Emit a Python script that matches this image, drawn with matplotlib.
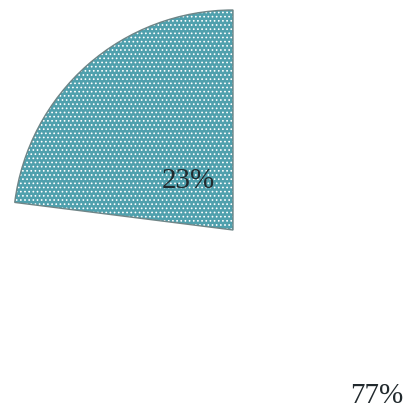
import numpy as np
import matplotlib
matplotlib.use("Agg")
import matplotlib.pyplot as plt

# Share of responses
labels = ["A", "B"]
values = [23, 77]
pct_labels = ["23%", "77%"]
label_dist = [0.31, 0.99]

plt.rcParams["font.family"] = ["Liberation Serif", "DejaVu Serif"]
plt.rcParams["hatch.linewidth"] = 0.7

fig = plt.figure(figsize=(4.13, 4.19), dpi=100)
fig.patch.set_facecolor("white")
W, H = 413, 419
cx, cy, R = 233, 230, 220
ax = fig.add_axes([(cx - R) / W, (H - cy - R) / H, 2 * R / W, 2 * R / H])

fills = ["#4fa0ad", "white"]
hatches = ["....", None]

wedges, _ = ax.pie(values, startangle=90, counterclock=True, radius=1,
                   colors=fills, wedgeprops=dict(linewidth=0, edgecolor="white"))
for w, h in zip(wedges, hatches):
    w.set_clip_on(False)
    if h:
        w.set_hatch(h)

# outline of the coloured slice only
outline, _ = ax.pie(values, startangle=90, counterclock=True, radius=1,
                    colors=["none", "none"],
                    wedgeprops=dict(linewidth=1.0))
outline[0].set_edgecolor("#6f8587")
outline[1].set_edgecolor("none")
for w in outline:
    w.set_clip_on(False)

ax.set_xlim(-1, 1)
ax.set_ylim(-1, 1)
ax.axis("off")

for w, txt, d in zip(wedges, pct_labels, label_dist):
    mid = np.deg2rad((w.theta1 + w.theta2) / 2)
    ax.text(d * np.cos(mid), d * np.sin(mid) - 0.01, txt, ha="center", va="center",
            fontsize=21, color="#222a2e", clip_on=False)

fig.savefig("out.png", dpi=100, facecolor="white")
